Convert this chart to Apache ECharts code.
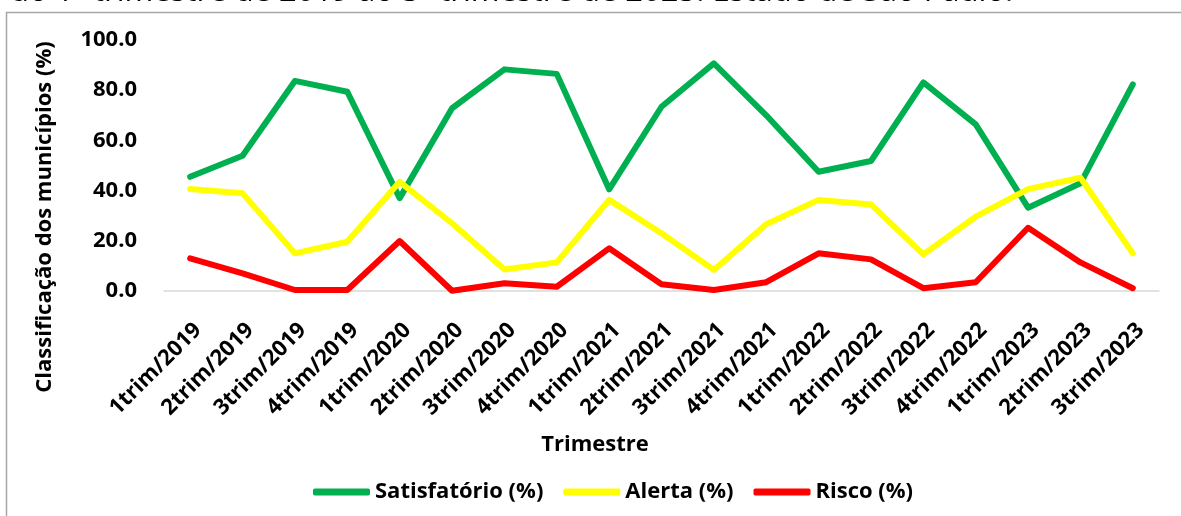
<!DOCTYPE html>
<html>
<head>
<meta charset="utf-8">
<script src="https://cdn.jsdelivr.net/npm/echarts@6/dist/echarts.min.js"></script>
<style>
  html, body { margin: 0; padding: 0; background: #fff; }
  #chart { width: 1181px; height: 516px; }
</style>
</head>
<body>
<div id="chart"></div>
<script>
var trimestres = ['1trim/2019', '2trim/2019', '3trim/2019', '4trim/2019',
    '1trim/2020', '2trim/2020', '3trim/2020', '4trim/2020',
    '1trim/2021', '2trim/2021', '3trim/2021', '4trim/2021',
    '1trim/2022', '2trim/2022', '3trim/2022', '4trim/2022',
    '1trim/2023', '2trim/2023', '3trim/2023'];
var satisfatorio = [45.5, 53.9, 83.7, 79.4, 37.0, 72.8, 88.3, 86.5, 40.5, 73.4, 90.7, 70.0, 47.5, 51.8, 83.1, 66.4, 33.2, 42.9, 82.3];
var alerta = [40.6, 38.9, 15.0, 19.6, 43.5, 27.0, 8.6, 11.4, 36.3, 23.0, 8.4, 26.6, 36.3, 34.5, 14.6, 29.6, 40.6, 45.1, 15.0];
var risco = [13.0, 7.0, 0.4, 0.4, 19.9, 0.1, 3.1, 1.7, 17.0, 2.7, 0.4, 3.5, 15.0, 12.6, 1.1, 3.5, 25.2, 11.4, 1.1];

var fonte = '"Open Sans", sans-serif';
var myChart = echarts.init(document.getElementById('chart'));

function linha(nome, dados, cor) {
    return {
        name: nome,
        type: 'line',
        data: dados,
        showSymbol: false,
        symbol: 'none',
        lineStyle: { color: cor, width: 6, cap: 'round', join: 'round' },
        itemStyle: { color: cor },
        animation: false
    };
}

var option = {
    animation: false,
    grid: { left: 164, right: 22, top: 40, bottom: 225 },
    legend: {
        left: 308,
        top: 476,
        icon: 'roundRect',
        itemWidth: 57,
        itemHeight: 7,
        itemGap: 20,
        textStyle: { fontFamily: fonte, fontWeight: 'bold', fontSize: 22, color: '#000' },
        data: ['Satisfatório (%)', 'Alerta (%)', 'Risco (%)']
    },
    xAxis: {
        type: 'category',
        data: trimestres,
        boundaryGap: true,
        axisLine: { lineStyle: { color: '#D9D9D9', width: 1.5 } },
        axisTick: { show: false },
        axisLabel: {
            interval: 0,
            rotate: 45,
            margin: 28,
            align: 'right',
            verticalAlign: 'top',
            fontFamily: fonte,
            fontWeight: 'bold',
            fontSize: 22,
            color: '#000'
        }
    },
    yAxis: {
        type: 'value',
        min: 0,
        max: 100,
        interval: 20,
        axisLine: { show: false },
        axisTick: { show: false },
        splitLine: { show: false },
        axisLabel: {
            margin: 27,
            fontFamily: fonte,
            fontWeight: 'bold',
            fontSize: 22,
            color: '#000',
            formatter: function (v) { return v.toFixed(1); }
        }
    },
    graphic: [
        {
            type: 'polyline',
            shape: { points: [[6.5, 700], [6.5, 12.5], [1300, 12.5]] },
            style: { fill: 'none', stroke: '#A6A6A6', lineWidth: 1.5 },
            silent: true
        },
        {
            type: 'text',
            x: 10,
            y: 8,
            style: {
                text: 'do 1º trimestre de 2019 ao 3º trimestre de 2023. Estado de São Paulo.',
                font: '31px ' + fonte,
                fill: '#000',
                align: 'left',
                verticalAlign: 'bottom'
            },
            silent: true
        },
        {
            type: 'text',
            x: 595,
            y: 445,
            style: {
                text: 'Trimestre',
                font: 'bold 22px ' + fonte,
                fill: '#000',
                align: 'center',
                verticalAlign: 'middle'
            },
            silent: true
        },
        {
            type: 'text',
            x: 45,
            y: 217,
            rotation: Math.PI / 2,
            style: {
                text: 'Classificação dos municípios (%)',
                font: 'bold 22px ' + fonte,
                fill: '#000',
                align: 'center',
                verticalAlign: 'middle'
            },
            silent: true
        }
    ],
    series: [
        linha('Satisfatório (%)', satisfatorio, '#00B050'),
        linha('Alerta (%)', alerta, '#FFFF00'),
        linha('Risco (%)', risco, '#FF0000')
    ]
};
myChart.setOption(option);
</script>
</body>
</html>
